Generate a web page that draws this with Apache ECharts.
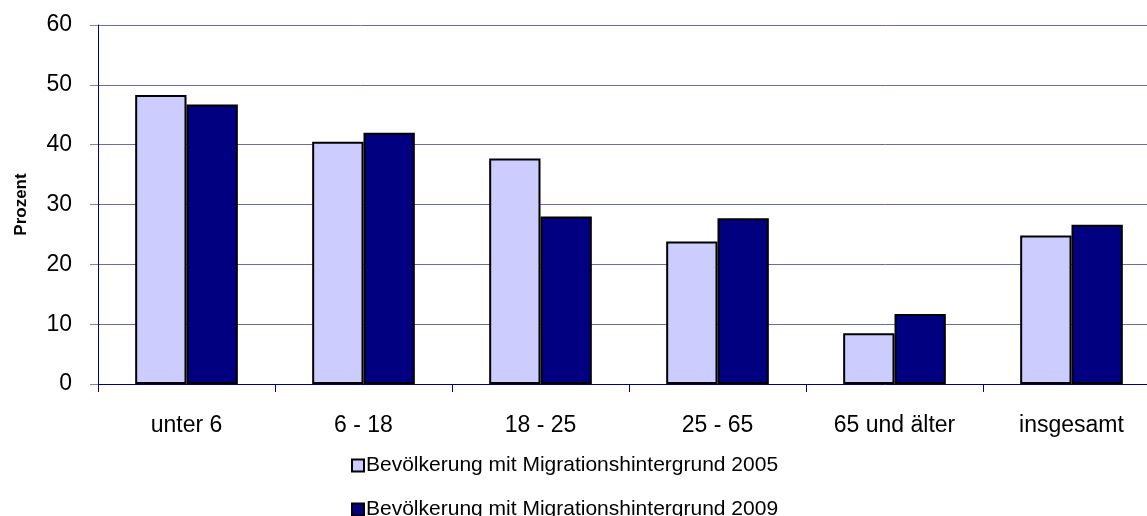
<!DOCTYPE html>
<html><head><meta charset="utf-8">
<script src="https://cdn.jsdelivr.net/npm/echarts@6/dist/echarts.min.js"></script>
<style>html,body{margin:0;padding:0;background:#fff}#c{width:1147px;height:516px}</style>
</head><body><div id="c"></div>
<script>
const categories = ['unter 6', '6 - 18', '18 - 25', '25 - 65', '65 und älter', 'insgesamt'];
const seriesNames = ['Bevölkerung mit Migrationshintergrund 2005', 'Bevölkerung mit Migrationshintergrund 2009'];
const values2005 = [48.3, 40.5, 37.7, 23.8, 8.5, 24.8];
const values2009 = [46.7, 42.0, 28.0, 27.7, 11.7, 26.6];
const yTicks = [0, 10, 20, 30, 40, 50, 60];

const chart = echarts.init(document.getElementById('c'), null, {renderer: 'canvas'});
const font = 'Liberation Sans, Arial, sans-serif';
const legendBase = {
  orient: 'vertical', left: 346, itemWidth: 12, itemHeight: 12, icon: 'rect',
  itemStyle: {borderColor: '#000', borderWidth: 2},
  textStyle: {fontSize: 21, color: '#000', fontFamily: font, padding: [0, 0, 0, -3]}
};
chart.setOption({
  animation: false,
  backgroundColor: '#fff',
  textStyle: {fontFamily: font},
  grid: {left: 98, right: -13, top: 25, bottom: 132, containLabel: false, outerBoundsMode: 'none'},
  legend: [
    Object.assign({}, legendBase, {top: 450, data: [seriesNames[0]]}),
    Object.assign({}, legendBase, {top: 494, data: [seriesNames[1]]})
  ],
  xAxis: {
    type: 'category', data: categories,
    axisLine: {lineStyle: {color: '#000080', width: 1}},
    axisTick: {show: true, length: 8, lineStyle: {color: '#000080'}},
    axisLabel: {fontSize: 23, color: '#000', margin: 30, fontFamily: font}
  },
  yAxis: {
    type: 'value', min: yTicks[0], max: yTicks[yTicks.length - 1], interval: 10,
    name: 'Prozent', nameLocation: 'middle', nameGap: 68,
    nameTextStyle: {fontSize: 17, fontWeight: 'bold', color: '#000', fontFamily: font},
    axisLine: {show: true, lineStyle: {color: '#000080', width: 1}},
    axisTick: {show: true, length: 8, lineStyle: {color: '#8080c0'}},
    axisLabel: {fontSize: 23, color: '#000', margin: 26, fontFamily: font},
    splitLine: {lineStyle: {color: '#6a6ab0', width: 1}}
  },
  series: [
    {name: seriesNames[0], type: 'bar', data: values2005, barGap: '0%', barCategoryGap: '42%',
     itemStyle: {color: '#ccccff', borderColor: '#000', borderWidth: 2}},
    {name: seriesNames[1], type: 'bar', data: values2009, barGap: '0%', barCategoryGap: '42%',
     itemStyle: {color: '#000080', borderColor: '#000', borderWidth: 2}}
  ]
});
</script></body></html>
